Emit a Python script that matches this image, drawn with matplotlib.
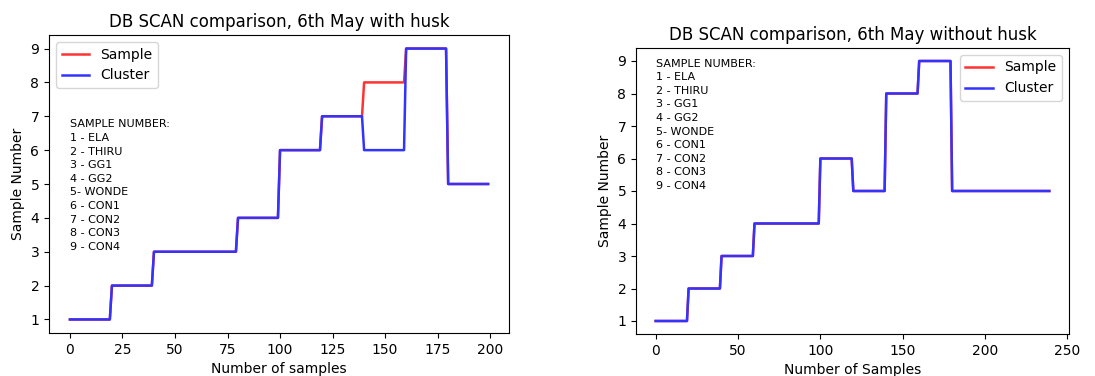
import numpy as np
import matplotlib
matplotlib.use('Agg')
import matplotlib.pyplot as plt

# segment values / lengths (each segment = consecutive samples)
husk_sample_vals = [1, 2, 3, 4, 6, 7, 8, 9, 5]
husk_cluster_vals = [1, 2, 3, 4, 6, 7, 6, 9, 5]
husk_lengths = [20, 20, 40, 20, 20, 20, 20, 20, 20]

nohusk_sample_vals = [1, 2, 3, 4, 6, 5, 8, 9, 5]
nohusk_cluster_vals = [1, 2, 3, 4, 6, 5, 8, 9, 5]
nohusk_lengths = [20, 20, 20, 40, 20, 20, 20, 20, 60]

legend_text = ("SAMPLE NUMBER:\n1 - ELA\n2 - THIRU\n3 - GG1\n4 - GG2\n5- WONDE\n"
               "6 - CON1\n7 - CON2\n8 - CON3\n9 - CON4")

husk_sample = np.repeat(husk_sample_vals, husk_lengths)
husk_cluster = np.repeat(husk_cluster_vals, husk_lengths)
nohusk_sample = np.repeat(nohusk_sample_vals, nohusk_lengths)
nohusk_cluster = np.repeat(nohusk_cluster_vals, nohusk_lengths)

red = (1, 0.2, 0.2)
blue = (0.2, 0.2, 1)

fig = plt.figure(figsize=(10.95, 3.76), dpi=100)
ax1 = fig.add_axes([49 / 1095, 43 / 376, 460 / 1095, 298 / 376])
ax2 = fig.add_axes([636 / 1095, 42 / 376, 433 / 1095, 286 / 376])

ax1.plot(np.arange(len(husk_sample)), husk_sample, color=red, lw=1.8, label='Sample')
ax1.plot(np.arange(len(husk_cluster)), husk_cluster, color=blue, lw=1.8, label='Cluster')
ax1.set_title('DB SCAN comparison, 6th May with husk')
ax1.set_xlabel('Number of samples')
ax1.set_ylabel('Sample Number')
ax1.legend(loc='upper left')
ax1.text(0, 3, legend_text, fontsize=8, va='bottom', linespacing=1.45)

ax2.plot(np.arange(len(nohusk_sample)), nohusk_sample, color=red, lw=1.8, label='Sample')
ax2.plot(np.arange(len(nohusk_cluster)), nohusk_cluster, color=blue, lw=1.8, label='Cluster')
ax2.set_title('DB SCAN comparison, 6th May without husk')
ax2.set_xlabel('Number of Samples')
ax2.set_ylabel('Sample Number')
ax2.legend(loc='upper right')
ax2.text(0, 5, legend_text, fontsize=8, va='bottom', linespacing=1.45)

fig.savefig('out.png', dpi=100)
